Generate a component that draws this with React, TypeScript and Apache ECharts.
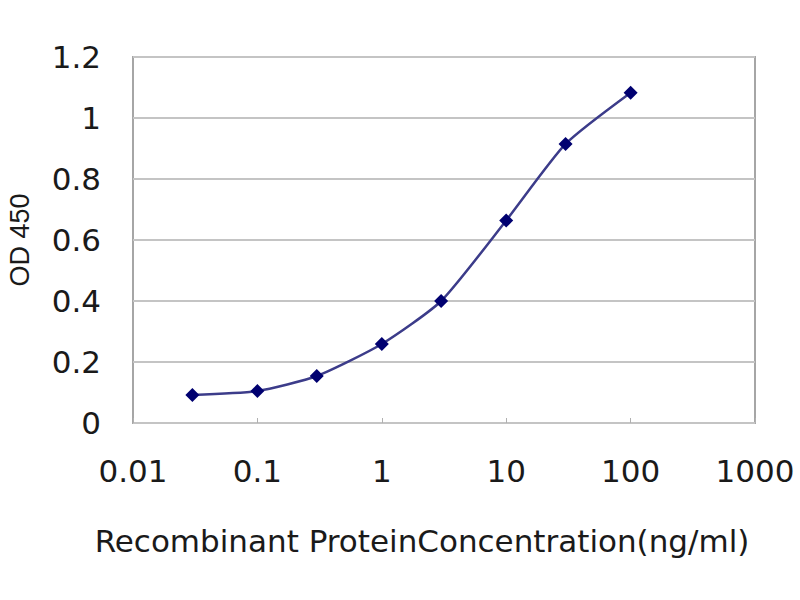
import { useEffect, useRef } from "react"
import * as echarts from "echarts"

const concentrations = [0.03, 0.1, 0.3, 1, 3, 10, 30, 100]
const od450 = [0.092, 0.105, 0.154, 0.259, 0.4, 0.664, 0.915, 1.083]
const xTickLabels = ["0.01", "0.1", "1", "10", "100", "1000"]
const yTickLabels = ["0", "0.2", "0.4", "0.6", "0.8", "1", "1.2"]

const FONT = "DejaVu Sans, Liberation Sans, sans-serif"

export default function App() {
  const chartRef = useRef<HTMLDivElement>(null)

  useEffect(() => {
    document.body.style.margin = "0"
    if (!chartRef.current) return
    const chart = echarts.init(chartRef.current, undefined, { renderer: "svg" })

    const option: echarts.EChartsOption = {
      animation: false,
      backgroundColor: "#ffffff",
      grid: {
        left: 133,
        top: 57,
        right: 45,
        bottom: 177,
        show: true,
        borderColor: "#a6a6a6",
        borderWidth: 2,
        backgroundColor: "transparent",
      },
      xAxis: {
        type: "log",
        logBase: 10,
        min: 0.01,
        max: 1000,
        axisLine: { show: false },
        axisTick: { show: true, inside: true, length: 5, lineStyle: { color: "#b0b0b0", width: 1 } },
        splitLine: { show: false },
        axisLabel: {
          margin: 32,
          fontFamily: FONT,
          fontSize: 31,
          color: "#1a1a1a",
          formatter: (v: number) => xTickLabels[Math.round(Math.log10(v)) + 2] ?? "",
        },
      },
      yAxis: {
        type: "value",
        min: 0,
        max: 1.2,
        interval: 0.2,
        axisLine: { show: false },
        axisTick: { show: false },
        splitLine: { show: true, lineStyle: { color: "#c4c4c4", width: 2 } },
        axisLabel: {
          margin: 32,
          fontFamily: FONT,
          fontSize: 31,
          color: "#1a1a1a",
          formatter: (v: number) => yTickLabels[Math.round(v / 0.2)] ?? "",
        },
      },
      graphic: [
        {
          type: "text",
          x: 422,
          y: 541,
          style: {
            text: "Recombinant ProteinConcentration(ng/ml)",
            fontFamily: FONT,
            fontSize: 31,
            fill: "#1a1a1a",
            textAlign: "center",
            textVerticalAlign: "middle",
          },
        },
        {
          type: "text",
          x: 20,
          y: 240,
          rotation: Math.PI / 2,
          style: {
            text: "OD 450",
            fontFamily: "Liberation Sans, Arial, sans-serif",
            fontSize: 27,
            fill: "#1a1a1a",
            textAlign: "center",
            textVerticalAlign: "middle",
          },
        },
      ],
      series: [
        {
          type: "line",
          data: concentrations.map((c, i) => [c, od450[i]]),
          smooth: 0.2,
          symbol: "diamond",
          symbolSize: 14,
          lineStyle: { color: "#3c3c8a", width: 2.5 },
          itemStyle: { color: "#000070" },
        },
      ],
    }

    chart.setOption(option)
    return () => {
      chart.dispose()
    }
  }, [])

  return <div ref={chartRef} style={{ width: "800px", height: "600px" }} />
}
